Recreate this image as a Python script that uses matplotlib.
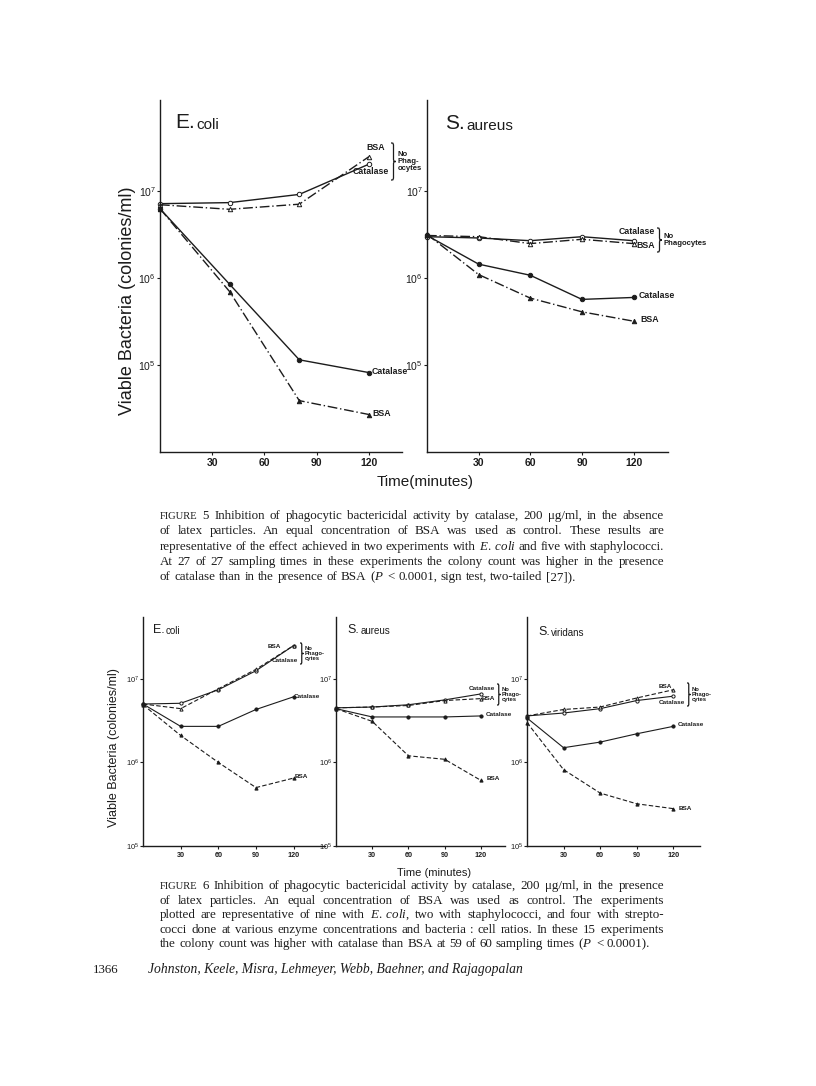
import matplotlib
matplotlib.use("Agg")
import matplotlib.pyplot as plt
from matplotlib.ticker import NullLocator, FixedLocator
from matplotlib.path import Path
from matplotlib.patches import PathPatch

plt.rcParams['mathtext.fontset'] = 'custom'
plt.rcParams['mathtext.rm'] = 'Liberation Serif'
plt.rcParams['mathtext.it'] = 'Liberation Serif:italic'
plt.rcParams['mathtext.sf'] = 'Liberation Sans'

SANS = ['Liberation Sans Narrow', 'Liberation Sans', 'DejaVu Sans']
SERIF = ['Liberation Serif', 'DejaVu Serif']
INK = '#1c1c1c'

# ---- Figure 5 data (no latex particles) ----
times5_ecoli = [0, 40, 80, 120]
ecoli5_cat_nophag = [7.2e6, 7.4e6, 9.2e6, 2.05e7]
ecoli5_bsa_nophag = [7.0e6, 6.2e6, 7.1e6, 2.5e7]
ecoli5_cat = [6.3e6, 8.5e5, 1.15e5, 8.2e4]
ecoli5_bsa = [6.3e6, 7.0e5, 3.9e4, 2.7e4]

times5_saureus = [0, 30, 60, 90, 120]
saureus5_cat_nophag = [3.0e6, 2.9e6, 2.7e6, 3.0e6, 2.7e6]
saureus5_bsa_nophag = [3.1e6, 3.0e6, 2.5e6, 2.8e6, 2.5e6]
saureus5_cat = [3.1e6, 1.45e6, 1.08e6, 5.7e5, 6.0e5]
saureus5_bsa = [3.2e6, 1.1e6, 5.9e5, 4.1e5, 3.2e5]

# ---- Figure 6 data (with latex particles) ----
times6 = [0, 30, 60, 90, 120]
ecoli6_cat_nophag = [5.0e6, 5.1e6, 7.4e6, 1.25e7, 2.5e7]
ecoli6_bsa_nophag = [5.0e6, 4.4e6, 7.6e6, 1.3e7, 2.5e7]
ecoli6_cat = [5.0e6, 2.7e6, 2.7e6, 4.3e6, 6.1e6]
ecoli6_bsa = [4.9e6, 2.1e6, 1.0e6, 5.0e5, 6.5e5]

saureus6_cat_nophag = [4.5e6, 4.6e6, 4.9e6, 5.6e6, 6.6e6]
saureus6_bsa_nophag = [4.5e6, 4.6e6, 4.8e6, 5.5e6, 5.8e6]
saureus6_cat = [4.4e6, 3.5e6, 3.5e6, 3.5e6, 3.6e6]
saureus6_bsa = [4.4e6, 3.1e6, 1.2e6, 1.09e6, 6.1e5]

sviridans6_cat_nophag = [3.6e6, 3.9e6, 4.4e6, 5.5e6, 6.2e6]
sviridans6_bsa_nophag = [3.6e6, 4.3e6, 4.6e6, 5.9e6, 7.4e6]
sviridans6_cat = [3.4e6, 1.5e6, 1.75e6, 2.2e6, 2.7e6]
sviridans6_bsa = [3.0e6, 8.2e5, 4.3e5, 3.2e5, 2.8e5]

xticks = [30, 60, 90, 120]
yticks = [1e5, 1e6, 1e7]
ytick_labels = [r'$\mathsf{10^{5}}$', r'$\mathsf{10^{6}}$', r'$\mathsf{10^{7}}$']

caption5 = [
    "FIGURE 5 Inhibition of phagocytic bactericidal activity by catalase, 200 \u03bcg/ml, in the absence",
    "of latex particles. An equal concentration of BSA was used as control. These results are",
    "representative of the effect achieved in two experiments with $\\mathit{E.\\;coli}$ and five with staphylococci.",
    "At 27 of 27 sampling times in these experiments the colony count was higher in the presence",
    "of catalase than in the presence of BSA ($\\mathit{P}$ < 0.0001, sign test, two-tailed [27]).",
]
caption6 = [
    "FIGURE 6 Inhibition of phagocytic bactericidal activity by catalase, 200 \u03bcg/ml, in the presence",
    "of latex particles. An equal concentration of BSA was used as control. The experiments",
    "plotted are representative of nine with $\\mathit{E.\\;coli}$, two with staphylococci, and four with strepto-",
    "cocci done at various enzyme concentrations and bacteria : cell ratios. In these 15 experiments",
    "the colony count was higher with catalase than BSA at 59 of 60 sampling times ($\\mathit{P}$ < 0.0001).",
]

W, H = 816, 1086
fig = plt.figure(figsize=(W / 100, H / 100), dpi=100)


def px_axes(x0, y0, x1, y1):
    return fig.add_axes([x0 / W, 1 - y1 / H, (x1 - x0) / W, (y1 - y0) / H])


def ftext(x, y, s, **kw):
    kw.setdefault('family', SANS)
    kw.setdefault('color', INK)
    return fig.text(x / W, 1 - y / H, s, **kw)


def draw_panel(ax, t, cat_np, bsa_np, cat, bsa, bsa_ls, ylim, xmax, ms, fs, lw):
    common = dict(color=INK, lw=lw, ms=ms, mec=INK, mew=0.7, clip_on=False)
    ax.plot(t, cat_np, ls='-', marker='o', mfc='white', **common)
    ax.plot(t, bsa_np, ls=bsa_ls, marker='^', mfc='white', **common)
    ax.plot(t, cat, ls='-', marker='o', mfc=INK, **common)
    ax.plot(t, bsa, ls=bsa_ls, marker='^', mfc=INK, **common)
    ax.set_yscale('log')
    ax.set_ylim(*ylim)
    ax.set_xlim(0, xmax)
    ax.yaxis.set_major_locator(FixedLocator(yticks))
    ax.yaxis.set_minor_locator(NullLocator())
    ax.set_yticklabels(ytick_labels)
    ax.set_xticks(xticks)
    ax.set_xticklabels([str(v) for v in xticks])
    for lab in ax.get_xticklabels() + ax.get_yticklabels():
        lab.set_family(SANS)
        lab.set_fontsize(fs)
        lab.set_fontweight('bold')
        lab.set_color(INK)
    ax.tick_params(length=2, width=0.8, pad=2, colors=INK)
    ax.tick_params(axis='y', pad=1)
    for s in ('top', 'right'):
        ax.spines[s].set_visible(False)
    for s in ('left', 'bottom'):
        ax.spines[s].set_linewidth(1.0)
        ax.spines[s].set_color(INK)
    ax.patch.set_alpha(0)


def title(x, y, big, small, fs_big, fs_small):
    t1 = ftext(x, y, big, fontsize=fs_big, va='baseline')
    fig.axes[0].annotate(small, xy=(1, 0), xycoords=t1, xytext=(1, 0), textcoords='offset points',
                         va='bottom', ha='left', fontsize=fs_small, family=SANS, color=INK,
                         annotation_clip=False)


def lbl(x, y, s, fs, ha='left'):
    ftext(x, y, s, fontsize=fs, fontweight='bold', ha=ha, va='center')


def brace(x, y0, y1, w, lw=0.9):
    # right-facing curly brace drawn in figure pixels (y measured from top)
    ym = (y0 + y1) / 2
    q = min(w, (y1 - y0) / 4)
    xm = x + w / 2
    pts = [(x, y0), (xm, y0), (xm, y0), (xm, y0 + q),
           (xm, ym - q),
           (xm, ym), (xm, ym), (x + w, ym),
           (xm, ym), (xm, ym), (xm, ym + q),
           (xm, y1 - q),
           (xm, y1), (xm, y1), (x, y1)]
    codes = [Path.MOVETO, Path.CURVE4, Path.CURVE4, Path.CURVE4,
             Path.LINETO,
             Path.CURVE4, Path.CURVE4, Path.CURVE4,
             Path.CURVE4, Path.CURVE4, Path.CURVE4,
             Path.LINETO,
             Path.CURVE4, Path.CURVE4, Path.CURVE4]
    verts = [(px / W, 1 - py / H) for px, py in pts]
    fig.add_artist(PathPatch(Path(verts, codes), transform=fig.transFigure,
                             fill=False, lw=lw, ec=INK))


def group(x, y0, y1, w, s, fs):
    brace(x, y0, y1, w)
    ftext(x + w + 1.5, (y0 + y1) / 2, s, fontsize=fs, fontweight='bold', ha='left',
          va='center', linespacing=0.95)


# ---------------- Figure 5 ----------------
ylim5 = (1e4, 10 ** 8.05)
ax1 = px_axes(160, 100, 402, 452)
draw_panel(ax1, times5_ecoli, ecoli5_cat_nophag, ecoli5_bsa_nophag, ecoli5_cat, ecoli5_bsa,
           (0, (7, 2, 1, 2)), ylim5, 139, 3.2, 7.5, 1.0)
ax2 = px_axes(427, 100, 668, 452)
draw_panel(ax2, times5_saureus, saureus5_cat_nophag, saureus5_bsa_nophag, saureus5_cat, saureus5_bsa,
           (0, (7, 2, 1, 2)), ylim5, 140, 3.2, 7.5, 1.0)
for ax in (ax1, ax2):
    for lab in ax.get_yticklabels():
        lab.set_fontsize(7.5)

ax1.set_ylabel('Viable Bacteria (colonies/ml)', fontsize=13, family=SANS, color=INK)
ax1.yaxis.set_label_coords(-0.1, 0.43)
ftext(425, 482, 'Time(minutes)', fontsize=11, ha='center', va='center')

title(175, 128, 'E.', 'coli', 15, 11)
title(445, 129, 'S.', 'aureus', 15, 11)

lbl(366, 148, 'BSA', 6.3)
lbl(389, 172, 'Catalase', 6.3, ha='right')
group(391, 143, 180, 5, 'No\nPhag-\nocytes', 5.6)
lbl(372, 372, 'Catalase', 6.3)
lbl(372, 414, 'BSA', 6.3)

lbl(655, 232, 'Catalase', 6.3, ha='right')
lbl(655, 245, 'BSA', 6.3, ha='right')
group(657, 228, 252, 5, 'No\nPhagocytes', 5.6)
lbl(639, 296, 'Catalase', 6.3)
lbl(640, 319, 'BSA', 6.3)

# ---------------- Figure 6 ----------------
ylim6 = (1e5, 10 ** 7.74)
ax3 = px_axes(143, 617, 325, 846)
draw_panel(ax3, times6, ecoli6_cat_nophag, ecoli6_bsa_nophag, ecoli6_cat, ecoli6_bsa,
           (0, (4, 2)), ylim6, 145, 2.3, 5.2, 0.8)
ax4 = px_axes(336, 617, 505, 846)
draw_panel(ax4, times6, saureus6_cat_nophag, saureus6_bsa_nophag, saureus6_cat, saureus6_bsa,
           (0, (4, 2)), ylim6, 140, 2.3, 5.2, 0.8)
ax5 = px_axes(527, 617, 700, 846)
draw_panel(ax5, times6, sviridans6_cat_nophag, sviridans6_bsa_nophag, sviridans6_cat, sviridans6_bsa,
           (0, (4, 2)), ylim6, 142, 2.3, 5.2, 0.8)
for ax in (ax3, ax4, ax5):
    for lab in ax.get_yticklabels():
        lab.set_fontsize(5.5)

ax3.set_ylabel('Viable Bacteria (colonies/ml)', fontsize=9, family=SANS, color=INK)
ax3.yaxis.set_label_coords(-0.125, 0.43)
ftext(434, 873, 'Time (minutes)', fontsize=8, ha='center', va='center')

title(153, 633, 'E.', 'coli', 9, 7)
title(347, 633, 'S.', 'aureus', 9, 7)
title(538, 635, 'S.', 'viridans', 9, 7)

lbl(281, 647, 'BSA', 4.6, ha='right')
lbl(298, 660, 'Catalase', 4.6, ha='right')
group(300, 643, 664, 3.5, 'No\nPhago-\ncytes', 4.2)
lbl(294, 696, 'Catalase', 4.6)
lbl(295, 777, 'BSA', 4.6)

lbl(495, 688, 'Catalase', 4.6, ha='right')
lbl(495, 698, 'BSA', 4.6, ha='right')
group(497, 684, 705, 3.5, 'No\nPhago-\ncytes', 4.2)
lbl(486, 715, 'Catalase', 4.6)
lbl(487, 779, 'BSA', 4.6)

lbl(672, 686, 'BSA', 4.6, ha='right')
lbl(685, 702, 'Catalase', 4.6, ha='right')
group(687, 683, 706, 3.5, 'No\nPhago-\ncytes', 4.2)
lbl(678, 725, 'Catalase', 4.6)
lbl(679, 808, 'BSA', 4.6)

# ---------------- captions (justified) ----------------
renderer = fig.canvas.get_renderer()


def caption_line(y, text, x0=160, x1=664, size=9.4, justify=True):
    words = [w for w in text.split(' ') if w]
    arts = []
    for w in words:
        fs = size * 0.8 if w == 'FIGURE' else size
        arts.append(fig.text(0, 1 - y / H, w, fontsize=fs, family=SERIF, color=INK, va='baseline'))
    widths = [a.get_window_extent(renderer).width for a in arts]
    if justify and len(words) > 1:
        gap = (x1 - x0 - sum(widths)) / (len(words) - 1)
    else:
        gap = size * 0.27 * 100 / 72
    x = x0
    for a, w in zip(arts, widths):
        a.set_x(x / W)
        x += w + gap


for i, line in enumerate(caption5):
    caption_line(519 + i * 15.3, line, justify=(i < len(caption5) - 1))
for i, line in enumerate(caption6):
    caption_line(889 + i * 14.6, line, justify=(i < len(caption6) - 1))

ftext(93, 973, '1366', fontsize=9.4, family=SERIF, va='baseline')
ftext(148, 973, 'Johnston, Keele, Misra, Lehmeyer, Webb, Baehner, and Rajagopalan',
      fontsize=9.8, family=SERIF, style='italic', va='baseline')

fig.savefig('out.png', dpi=100, facecolor='white')
